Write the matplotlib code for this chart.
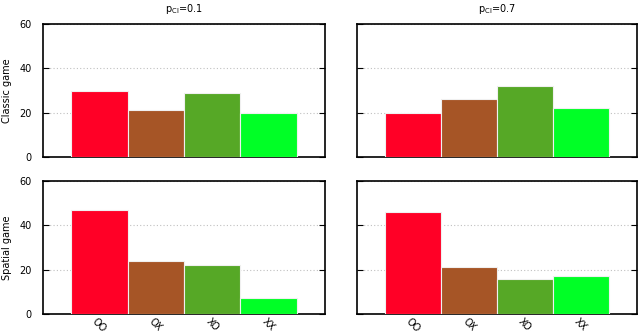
import matplotlib.pyplot as plt
import numpy as np

categories = ["OO", "OX", "XO", "XX"]
classic_01 = [30, 21, 29, 20]
classic_07 = [20, 26, 32, 22]
spatial_01 = [47, 24, 22, 7]
spatial_07 = [46, 21, 16, 17]
titles = [r"p$_{\mathrm{CI}}$=0.1", r"p$_{\mathrm{CI}}$=0.7"]
row_labels = ["Classic game", "Spatial game"]
colors = ["#ff0026", "#a65526", "#56a826", "#00ff26"]

fig = plt.figure(figsize=(6.4, 3.35), dpi=100)
# axes positions in figure fractions (left, bottom, width, height)
boxes = [
    [43 / 640, 1 - 157 / 335, 282 / 640, 133 / 335],
    [357 / 640, 1 - 157 / 335, 280 / 640, 133 / 335],
    [43 / 640, 1 - 314 / 335, 282 / 640, 133 / 335],
    [357 / 640, 1 - 314 / 335, 280 / 640, 133 / 335],
]
data = [classic_01, classic_07, spatial_01, spatial_07]

x = np.arange(len(categories))
for i, (box, vals) in enumerate(zip(boxes, data)):
    ax = fig.add_axes(box)
    ax.bar(x, vals, width=1.0, color=colors, edgecolor="#f0f0f0", linewidth=0.8, zorder=3)
    ax.set_xlim(-1, 4)
    ax.set_ylim(0, 60)
    ax.set_yticks([0, 20, 40, 60])
    ax.yaxis.grid(True, linestyle=(0, (1, 2)), color="#c0c0c0", linewidth=0.8, zorder=0)
    ax.tick_params(axis="y", direction="in", right=True, length=4, labelsize=7, pad=8)
    ax.tick_params(axis="x", length=0, labelsize=7)
    for s in ax.spines.values():
        s.set_linewidth(1.2)
    if i % 2 == 1:
        ax.set_yticklabels([])
    else:
        ax.set_ylabel(row_labels[i // 2], fontsize=7)
        ax.yaxis.set_label_coords(-0.11, 0.5)
    if i < 2:
        ax.set_xticks([])
        ax.text(0.5, 1.11, titles[i], transform=ax.transAxes, fontsize=7,
                ha="center", va="center")
    else:
        ax.set_xticks(x)
        ax.set_xticklabels(categories, rotation=-45, ha="center", va="top")
        ax.tick_params(axis="x", pad=2)

fig.savefig("out.png", dpi=100)
